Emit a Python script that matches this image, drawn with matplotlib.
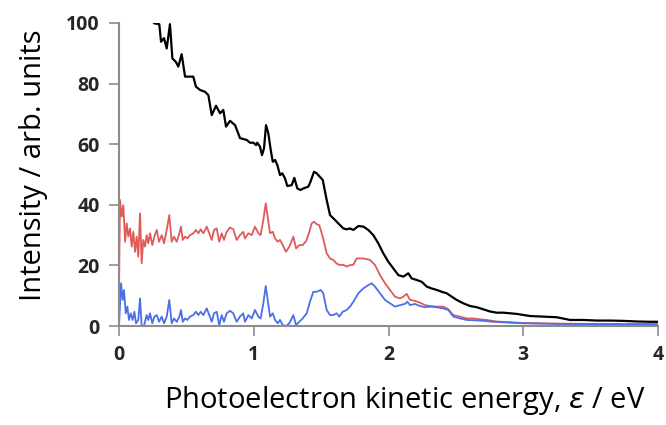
import matplotlib
matplotlib.use("Agg")
import matplotlib.pyplot as plt

# ---- data ----
black_x = [0.20, 0.24, 0.26, 0.299, 0.312, 0.334, 0.354, 0.378, 0.396, 0.421, 0.44, 0.465, 0.49,
           0.551, 0.571, 0.601, 0.638, 0.663, 0.688, 0.72, 0.75, 0.774, 0.794, 0.824, 0.861,
           0.898, 0.948, 0.972, 0.997, 1.017, 1.026, 1.046, 1.061, 1.076, 1.091, 1.108, 1.126,
           1.141, 1.158, 1.175, 1.195, 1.212, 1.232, 1.249, 1.282, 1.301, 1.323, 1.348, 1.368,
           1.405, 1.42, 1.447, 1.467, 1.479, 1.512, 1.541, 1.566, 1.603, 1.64, 1.665, 1.69,
           1.714, 1.739, 1.776, 1.813, 1.85, 1.887, 1.924, 1.961, 1.999, 2.036, 2.073, 2.11,
           2.147, 2.172, 2.209, 2.246, 2.284, 2.32, 2.358, 2.395, 2.432, 2.469, 2.506, 2.555,
           2.605, 2.655, 2.704, 2.753, 2.803, 2.852, 2.951, 3.05, 3.149, 3.248, 3.347, 3.446,
           3.545, 3.644, 3.743, 3.842, 3.941, 4.0]
black_y = [115, 104, 99.9, 99.6, 93.8, 95.0, 91.6, 99.6, 88.3, 87.2, 85.6, 89.7, 82.3,
           82.3, 79.0, 77.9, 77.3, 76.2, 69.6, 72.7, 70.2, 71.3, 65.8, 67.7, 66.3,
           62.0, 61.4, 60.5, 60.5, 59.7, 60.5, 59.2, 56.4, 58.6, 66.3, 63.6, 58.1,
           54.2, 54.8, 53.1, 49.8, 50.4, 48.7, 46.2, 46.5, 48.9, 45.4, 44.9, 45.4,
           46.0, 47.5, 50.9, 50.4, 49.8, 48.2, 41.6, 36.6, 35.0, 33.3, 32.2, 31.9,
           32.2, 31.7, 33.0, 32.8, 31.7, 30.0, 27.3, 24.0, 21.2, 19.0, 16.8, 16.3,
           17.4, 15.7, 15.2, 14.6, 13.0, 12.4, 11.9, 11.3, 10.8, 9.7, 8.6, 7.5,
           6.6, 6.2, 5.5, 4.8, 4.4, 4.4, 4.0, 3.3, 3.1, 2.9, 2.0, 2.0,
           1.8, 1.8, 1.7, 1.5, 1.4, 1.4]

red_x = [0.0, 0.007, 0.02, 0.032, 0.045, 0.057, 0.069, 0.082, 0.094, 0.106, 0.119, 0.131, 0.143,
         0.156, 0.168, 0.18, 0.193, 0.205, 0.217, 0.23, 0.247, 0.262, 0.28, 0.297, 0.317,
         0.334, 0.354, 0.373, 0.391, 0.408, 0.428, 0.448, 0.46, 0.473, 0.49, 0.507, 0.527,
         0.551, 0.571, 0.589, 0.606, 0.626, 0.651, 0.67, 0.688, 0.705, 0.725, 0.744, 0.762,
         0.779, 0.799, 0.824, 0.848, 0.873, 0.898, 0.922, 0.935, 0.96, 0.985, 1.009, 1.034,
         1.051, 1.071, 1.089, 1.103, 1.121, 1.141, 1.158, 1.178, 1.195, 1.215, 1.239, 1.264,
         1.294, 1.314, 1.338, 1.363, 1.388, 1.412, 1.43, 1.447, 1.467, 1.486, 1.512, 1.541,
         1.566, 1.59, 1.615, 1.64, 1.665, 1.69, 1.714, 1.739, 1.764, 1.813, 1.863, 1.9,
         1.937, 1.974, 2.011, 2.048, 2.085, 2.11, 2.135, 2.16, 2.197, 2.234, 2.271, 2.308,
         2.358, 2.407, 2.444, 2.481, 2.531, 2.58, 2.63, 2.679, 2.729, 2.8, 3.0, 3.25, 3.5,
         3.75, 4.0]
red_y = [12, 41.6, 36.1, 39.9, 27.8, 33.9, 29.5, 32.2, 26.2, 31.1, 24.5, 29.5, 22.9,
         37.2, 20.7, 28.4, 26.2, 30.0, 27.3, 30.6, 26.7, 29.5, 31.7, 27.8, 30.0,
         27.3, 31.7, 36.6, 27.8, 29.5, 27.8, 30.6, 32.8, 28.4, 29.5, 28.9, 30.0,
         30.6, 31.7, 30.6, 31.9, 30.6, 32.8, 30.6, 28.4, 31.7, 32.2, 27.8, 30.6,
         28.4, 31.1, 32.5, 31.9, 28.4, 30.0, 31.1, 28.9, 30.6, 30.0, 32.8, 30.6,
         30.0, 35.0, 40.5, 36.1, 30.6, 31.1, 28.9, 27.8, 28.4, 26.7, 24.5, 26.2,
         29.5, 25.6, 26.7, 26.7, 28.0, 31.0, 33.9, 34.4, 33.6, 33.3, 29.5, 24.0,
         22.3, 21.8, 20.6, 20.1, 20.2, 19.6, 20.1, 20.2, 22.3, 22.3, 21.8, 20.1,
         16.8, 14.1, 11.9, 9.7, 9.1, 9.7, 10.6, 8.6, 8.3, 7.7, 6.9, 6.6,
         6.4, 6.4, 5.5, 3.6, 3.1, 2.5, 2.5, 2.2, 2.0, 1.5, 1.0, 0.8, 0.7,
         0.6, 0.6]

blue_x = [0.0, 0.015, 0.027, 0.037, 0.05, 0.062, 0.074, 0.087, 0.101, 0.114, 0.126, 0.143,
          0.156, 0.168, 0.185, 0.205, 0.217, 0.23, 0.247, 0.262, 0.28, 0.297, 0.317, 0.334,
          0.354, 0.373, 0.391, 0.408, 0.428, 0.448, 0.46, 0.473, 0.49, 0.507, 0.527, 0.551,
          0.571, 0.589, 0.606, 0.626, 0.651, 0.67, 0.688, 0.705, 0.725, 0.744, 0.762, 0.779,
          0.799, 0.824, 0.848, 0.873, 0.898, 0.922, 0.935, 0.96, 0.985, 1.009, 1.034, 1.051,
          1.071, 1.089, 1.103, 1.121, 1.141, 1.158, 1.178, 1.195, 1.215, 1.239, 1.264, 1.294,
          1.314, 1.338, 1.363, 1.393, 1.417, 1.442, 1.467, 1.497, 1.516, 1.541, 1.566, 1.59,
          1.615, 1.635, 1.66, 1.69, 1.714, 1.739, 1.776, 1.813, 1.85, 1.875, 1.9, 1.937,
          1.974, 2.011, 2.048, 2.085, 2.122, 2.14, 2.16, 2.197, 2.234, 2.271, 2.308, 2.358,
          2.407, 2.444, 2.481, 2.531, 2.58, 2.679, 2.778, 3.0, 3.25, 3.5, 3.75, 4.0]
blue_y = [0.0, 14.1, 8.6, 11.9, 4.2, 6.4, 2.0, 4.2, 2.0, 4.7, 0.9, 2.0,
          9.1, 0.1, 0.0, 3.6, 2.0, 4.2, 0.9, 3.1, 3.6, 1.4, 3.1, 0.9,
          3.1, 8.6, 0.9, 2.5, 1.4, 3.1, 5.3, 1.4, 2.5, 2.0, 3.1, 3.6,
          4.7, 3.6, 4.7, 3.6, 5.8, 3.6, 1.4, 4.2, 4.7, 0.3, 3.6, 1.4,
          4.2, 5.0, 4.2, 1.4, 3.1, 4.2, 1.4, 3.6, 2.5, 5.3, 3.1, 2.5,
          7.5, 13.2, 8.6, 3.1, 4.2, 2.0, 0.9, 2.0, 0.3, 0.0, 0.9, 3.6,
          0.3, 1.4, 2.5, 4.2, 8.0, 11.3, 11.3, 11.9, 10.8, 5.3, 3.6, 3.6,
          4.2, 3.1, 4.7, 5.3, 6.4, 8.0, 10.8, 12.4, 13.5, 14.1, 13.0, 10.8,
          8.6, 7.5, 6.4, 6.9, 7.3, 8.0, 6.9, 7.3, 6.6, 6.2, 6.4, 6.2,
          5.8, 5.3, 3.1, 2.5, 2.0, 1.8, 1.4, 0.9, 0.7, 0.6, 0.6, 0.6]

x_ticks = [0, 1, 2, 3, 4]
y_ticks = [0, 20, 40, 60, 80, 100]

# ---- figure ----
plt.rcParams['font.family'] = ['Open Sans', 'DejaVu Sans']
fig = plt.figure(figsize=(6.66, 4.25), dpi=100)
ax = fig.add_axes([0.1787, 0.2329, 0.8093, 0.7130])

ax.plot(black_x, black_y, color='black', lw=1.6, solid_joinstyle='round')
ax.plot(red_x, red_y, color='#e05a5a', lw=1.3, solid_joinstyle='round')
ax.plot(blue_x, blue_y, color='#4a6fe8', lw=1.3, solid_joinstyle='round')

ax.set_xlim(0, 4)
ax.set_ylim(0, 100)
ax.set_xticks(x_ticks)
ax.set_yticks(y_ticks)
ax.set_xticklabels([str(v) for v in x_ticks])
ax.set_yticklabels([str(v) for v in y_ticks])

for s in ['top', 'right']:
    ax.spines[s].set_visible(False)
for s in ['left', 'bottom']:
    ax.spines[s].set_color('#8c8c8c')
    ax.spines[s].set_linewidth(1.5)

ax.tick_params(axis='both', direction='out', length=7, width=1.2, color='#8c8c8c',
               labelsize=14, labelcolor='#262626', pad=7)
for lab in ax.get_xticklabels() + ax.get_yticklabels():
    lab.set_fontweight('bold')

ax.set_xlabel('Photoelectron kinetic energy, $\\varepsilon$ / eV', fontsize=21, labelpad=15)
ax.set_ylabel('Intensity / arb. units', fontsize=21, labelpad=8)
ax.xaxis.set_label_coords(0.53, -0.19)
ax.yaxis.set_label_coords(-0.132, 0.53)

fig.savefig('out.png', dpi=100)
